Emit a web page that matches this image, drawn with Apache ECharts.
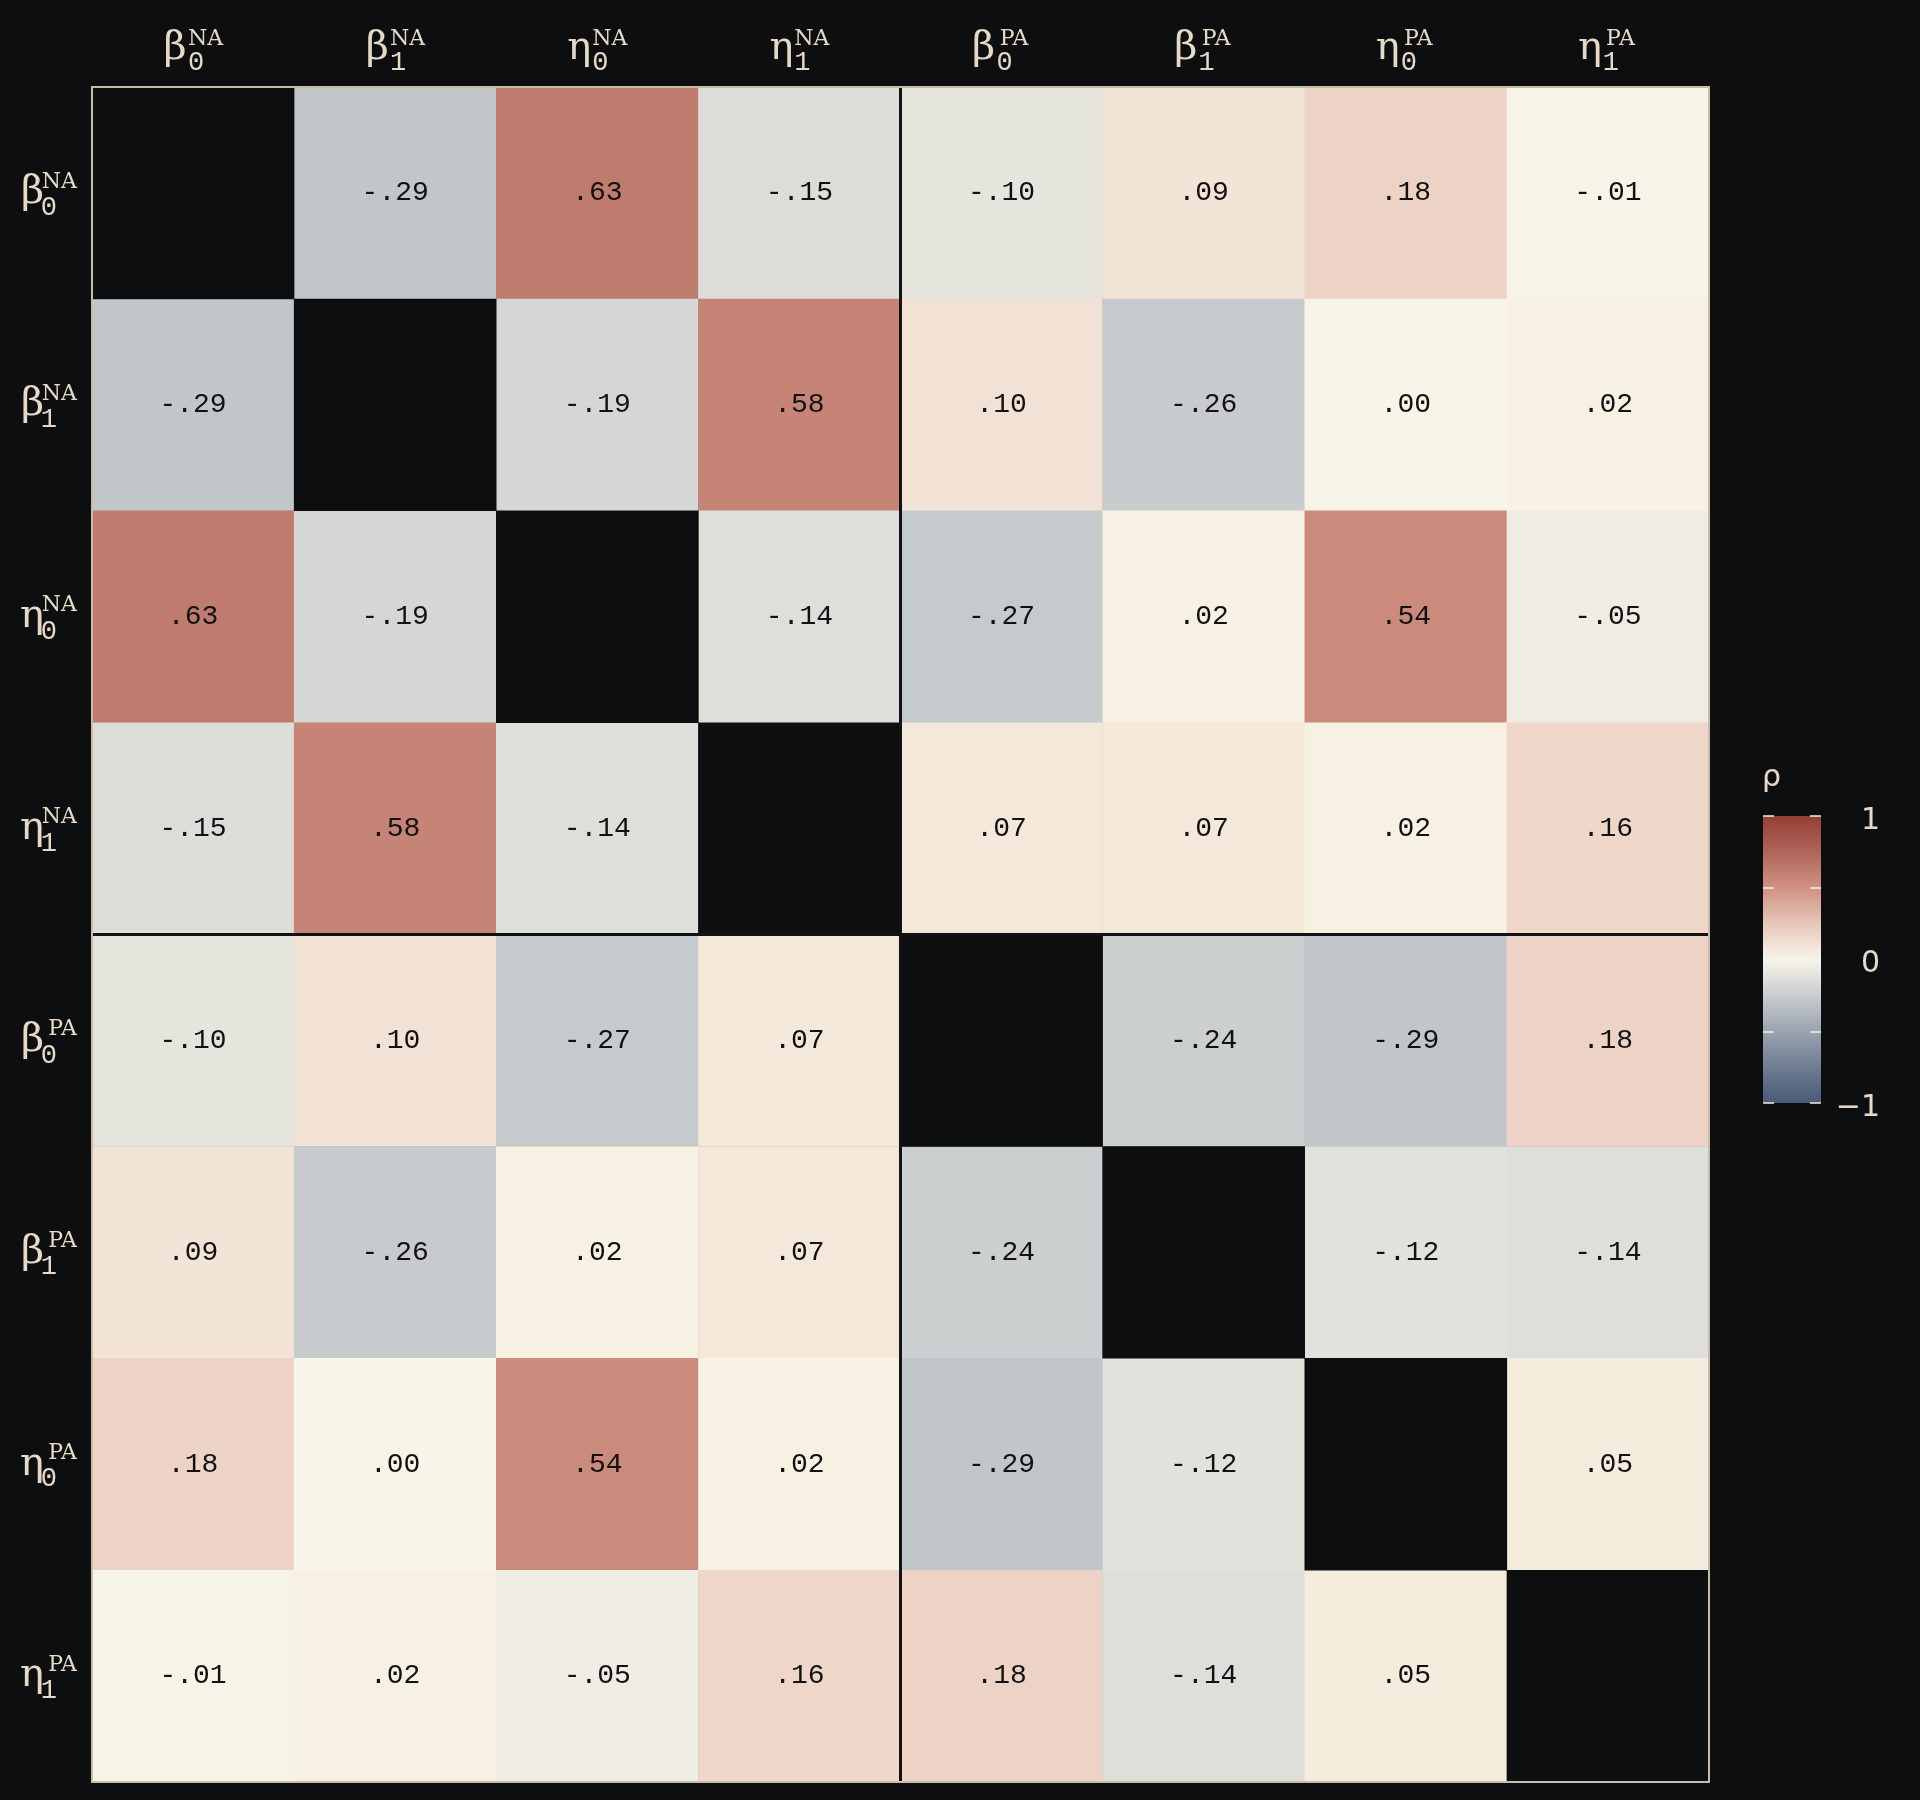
<!DOCTYPE html>
<html>
<head>
<meta charset="utf-8">
<script src="https://cdn.jsdelivr.net/npm/echarts@6/dist/echarts.min.js"></script>
<style>
  html, body { margin: 0; padding: 0; background: #0d0e10; }
  #chart { width: 1920px; height: 1800px; }
</style>
</head>
<body>
<div id="chart"></div>
<script>
// Parameter names (categories)
const params = ['β0NA', 'β1NA', 'η0NA', 'η1NA', 'β0PA', 'β1PA', 'η0PA', 'η1PA'];
const greek = ['β', 'β', 'η', 'η', 'β', 'β', 'η', 'η'];
const subs = ['0', '1', '0', '1', '0', '1', '0', '1'];
const sups = ['NA', 'NA', 'NA', 'NA', 'PA', 'PA', 'PA', 'PA'];

// Correlation matrix rows (null = diagonal)
const rowB0NA = [null, -0.29, 0.63, -0.15, -0.10, 0.09, 0.18, -0.01];
const rowB1NA = [-0.29, null, -0.19, 0.58, 0.10, -0.26, 0.00, 0.02];
const rowE0NA = [0.63, -0.19, null, -0.14, -0.27, 0.02, 0.54, -0.05];
const rowE1NA = [-0.15, 0.58, -0.14, null, 0.07, 0.07, 0.02, 0.16];
const rowB0PA = [-0.10, 0.10, -0.27, 0.07, null, -0.24, -0.29, 0.18];
const rowB1PA = [0.09, -0.26, 0.02, 0.07, -0.24, null, -0.12, -0.14];
const rowE0PA = [0.18, 0.00, 0.54, 0.02, -0.29, -0.12, null, 0.05];
const rowE1PA = [-0.01, 0.02, -0.05, 0.16, 0.18, -0.14, 0.05, null];
const rows = [rowB0NA, rowB1NA, rowE0NA, rowE1NA, rowB0PA, rowB1PA, rowE0PA, rowE1PA];

// Colour bar ticks
const barTicks = [-1, -0.5, 0, 0.5, 1];
const barTickLabels = { '-1': '\u22121', '0': '0', '1': '1' };

const cellData = [];
const diagData = [];
rows.forEach(function (row, i) {
  row.forEach(function (v, j) {
    if (v === null) diagData.push([j, i, 1]);
    else cellData.push([j, i, v]);
  });
});

function fmt(v) {
  return v.toFixed(2).replace('0.', '.');
}

const beige = '#e6dac7';
const frame = '#c9bda9';
const bg = '#0d0e10';

const chart = echarts.init(document.getElementById('chart'));

const common = { type: 'category', gridIndex: 0, z: 10, axisTick: { show: false }, splitLine: { show: false } };

chart.setOption({
  backgroundColor: bg,
  animation: false,
  title: {
    text: 'ρ', left: 1757, top: 758,
    textStyle: { color: beige, fontFamily: 'DejaVu Sans', fontSize: 30, fontWeight: 'normal' }
  },
  grid: [
    { left: 92, top: 87, width: 1617, height: 1695 },
    { left: 1763, top: 816, width: 58, height: 287 }
  ],
  xAxis: [
    Object.assign({}, common, {
      data: params, position: 'top',
      axisLine: { show: true, onZero: false, lineStyle: { color: frame, width: 2 } },
      axisLabel: { interval: 0, margin: 18, padding: [0, 36, 0, 0], formatter: function (v, i) { return greek[i]; },
        color: beige, fontFamily: 'DejaVu Serif', fontSize: 40 }
    }),
    Object.assign({}, common, {
      data: params, position: 'top', axisLine: { show: false },
      axisLabel: { interval: 0, margin: 11, padding: [0, 0, 0, 6], formatter: function (v, i) { return subs[i]; },
        color: beige, fontFamily: 'Liberation Mono', fontSize: 27 }
    }),
    Object.assign({}, common, {
      data: params, position: 'top', axisLine: { show: false },
      axisLabel: { interval: 0, margin: 37, padding: [0, 0, 0, 25], formatter: function (v, i) { return sups[i]; },
        color: beige, fontFamily: 'DejaVu Serif', fontSize: 22 }
    }),
    Object.assign({}, common, {
      data: ['NA', 'PA'], position: 'bottom',
      axisLine: { show: true, onZero: false, lineStyle: { color: frame, width: 2 } },
      axisLabel: { show: false },
      splitLine: { show: true, interval: 0, lineStyle: { color: ['rgba(0,0,0,0)', '#111214', 'rgba(0,0,0,0)'], width: 3 } }
    }),
    { type: 'value', gridIndex: 1, show: false, min: 0, max: 1 }
  ],
  yAxis: [
    Object.assign({}, common, {
      data: params, position: 'left', inverse: true,
      axisLine: { show: true, onZero: false, lineStyle: { color: frame, width: 2 } },
      axisLabel: { interval: 0, margin: 48, formatter: function (v, i) { return greek[i]; },
        color: beige, fontFamily: 'DejaVu Serif', fontSize: 40 }
    }),
    Object.assign({}, common, {
      data: params, position: 'left', inverse: true, axisLine: { show: false },
      axisLabel: { interval: 0, margin: 35, verticalAlign: 'top', lineHeight: 30, formatter: function (v, i) { return subs[i]; },
        color: beige, fontFamily: 'Liberation Mono', fontSize: 27 }
    }),
    Object.assign({}, common, {
      data: params, position: 'left', inverse: true, axisLine: { show: false },
      axisLabel: { interval: 0, margin: 15, verticalAlign: 'bottom', lineHeight: 22, formatter: function (v, i) { return sups[i]; },
        color: beige, fontFamily: 'DejaVu Serif', fontSize: 22 }
    }),
    Object.assign({}, common, {
      data: ['NA', 'PA'], position: 'right', inverse: true,
      axisLine: { show: true, onZero: false, lineStyle: { color: frame, width: 2 } },
      axisLabel: { show: false },
      splitLine: { show: true, interval: 0, lineStyle: { color: ['rgba(0,0,0,0)', '#111214', 'rgba(0,0,0,0)'], width: 3 } }
    }),
    {
      type: 'value', gridIndex: 1, position: 'left', min: -1, max: 1, interval: 0.5, z: 10,
      axisLine: { show: false }, splitLine: { show: false },
      axisTick: { show: true, inside: true, length: 11, lineStyle: { color: '#f2eee6', width: 1.5 } },
      axisLabel: { show: false }
    },
    {
      type: 'value', gridIndex: 1, position: 'right', min: -1, max: 1, interval: 0.5, z: 10,
      axisLine: { show: false }, splitLine: { show: false },
      axisTick: { show: true, inside: true, length: 11, lineStyle: { color: '#f2eee6', width: 1.5 } },
      axisLabel: {
        show: true, margin: 59, align: 'right', verticalAlign: 'top', lineHeight: 10,
        color: beige, fontFamily: 'DejaVu Sans', fontSize: 30,
        formatter: function (v) { const k = String(v); return barTicks.indexOf(v) >= 0 && barTickLabels[k] !== undefined ? barTickLabels[k] : ''; }
      }
    }
  ],
  visualMap: {
    type: 'continuous', min: -1, max: 1, seriesIndex: 0, calculable: false,
    left: 1763, top: 816, itemWidth: 58, itemHeight: 287, padding: 0, orient: 'vertical',
    text: null, showLabel: false,
    inRange: { color: ['#4a5a77', '#6f7d92', '#9aa4b0', '#c9cdcf', '#f8f5e8', '#e8c6b8', '#cf9282', '#b0655a', '#943f36'] },
    borderColor: '#555'
  },
  series: [
    {
      type: 'heatmap', xAxisIndex: 0, yAxisIndex: 0, data: cellData, z: 2,
      label: { show: true, color: '#111111', fontFamily: 'Liberation Mono', fontSize: 28,
        formatter: function (p) { return fmt(p.value[2]); } },
      emphasis: { disabled: true }
    },
    {
      type: 'heatmap', xAxisIndex: 0, yAxisIndex: 0, data: diagData, z: 2,
      itemStyle: { color: bg }, label: { show: false },
      emphasis: { disabled: true }
    }
  ]
});
</script>
</body>
</html>
